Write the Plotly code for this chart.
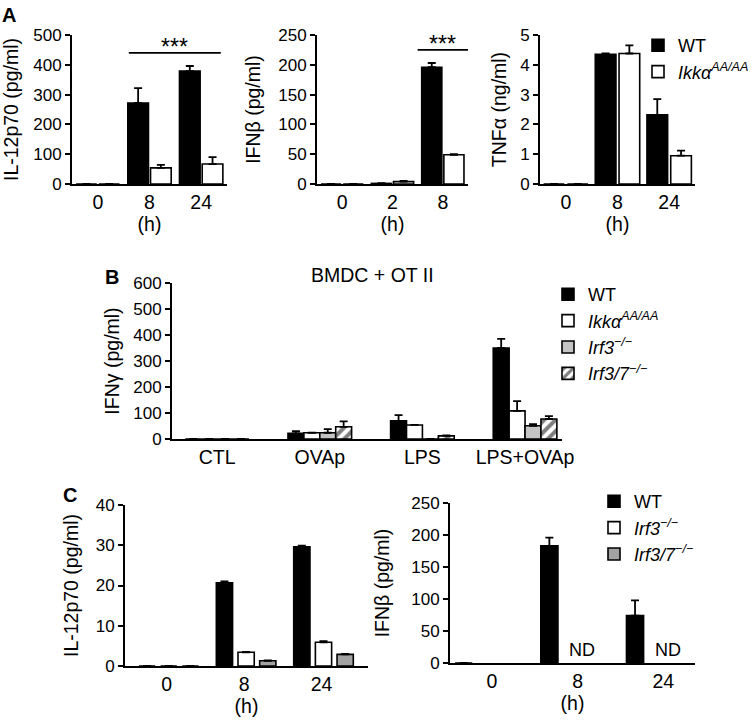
import plotly.graph_objects as go

FONT = "Liberation Sans, Arial, Helvetica, sans-serif"
W, H = 754, 720

# ---------------- data ----------------
# Panel A
a_il12_time = ["0", "8", "24"]
a_il12_wt = [0, 272, 379]
a_il12_wt_err = [None, 50, 17]
a_il12_ikk = [0, 54, 67]
a_il12_ikk_err = [None, 10, 23]

a_ifnb_time = ["0", "2", "8"]
a_ifnb_wt = [0, 1, 196]
a_ifnb_wt_err = [None, 0.5, 7]
a_ifnb_ikk = [0, 4, 49]
a_ifnb_ikk_err = [None, 1, 1]

a_tnf_time = ["0", "8", "24"]
a_tnf_wt = [0, 4.35, 2.32]
a_tnf_wt_err = [None, 0.03, 0.53]
a_tnf_ikk = [0, 4.38, 0.95]
a_tnf_ikk_err = [None, 0.27, 0.17]

# Panel B
b_cond = ["CTL", "OVAp", "LPS", "LPS+OVAp"]
b_wt = [0, 22, 70, 350]
b_wt_err = [None, 8, 22, 35]
b_ikk = [0, 24, 54, 108]
b_ikk_err = [None, None, None, 38]
b_irf3 = [0, 24, 0, 51]
b_irf3_err = [None, 14, None, 6]
b_irf37 = [0, 47, 12, 77]
b_irf37_err = [None, 21, 2, 11]

# Panel C
c_time = ["0", "8", "24"]
c_il12_wt = [0, 20.7, 29.6]
c_il12_wt_err = [None, 0.3, 0.3]
c_il12_irf3 = [0, 3.4, 5.9]
c_il12_irf3_err = [None, 0.1, 0.3]
c_il12_irf37 = [0, 1.3, 2.9]
c_il12_irf37_err = [None, 0.1, 0.1]
c_ifnb_wt = [0, 183, 74]
c_ifnb_wt_err = [None, 13, 24]
c_ifnb_nd = ["", "ND", "ND"]

# legend names
n_wt = "WT"
n_ikk = "<i>Ikkα<sup>AA/AA</sup></i>"
n_irf3 = "<i>Irf3<sup>−/−</sup></i>"
n_irf37 = "<i>Irf3/7<sup>−/−</sup></i>"

GRAY_B = "#c4c4c4"
GRAY_C = "#a2a2a2"


def px_x(p):
    return p / W


def px_y(p):
    return 1 - p / H


fig = go.Figure()


def bar(x, y, err, name, color, xa, ya, width, offset, legend, showlegend,
        pattern=None):
    m = dict(color=color, line=dict(color="black", width=1.6))
    if pattern:
        m["pattern"] = pattern
    fig.add_trace(go.Bar(
        x=x, y=y, name=name, marker=m, width=width, offset=offset,
        xaxis=xa, yaxis=ya, legend=legend, showlegend=showlegend,
        error_y=dict(type="data", array=err,
                     arrayminus=[None if e is None else 0 for e in err],
                     symmetric=False, color="black", thickness=1.8, width=4),
    ))


# Panel A
wA = 0.40
bar(a_il12_time, a_il12_wt, a_il12_wt_err, n_wt, "black", "x", "y", wA, -0.42, "legend", True)
bar(a_il12_time, a_il12_ikk, a_il12_ikk_err, n_ikk, "white", "x", "y", wA, 0.02, "legend", True)
bar(a_ifnb_time, a_ifnb_wt, a_ifnb_wt_err, n_wt, "black", "x2", "y2", wA, -0.42, "legend", False)
bar(a_ifnb_time, a_ifnb_ikk, a_ifnb_ikk_err, n_ikk, "white", "x2", "y2", wA, 0.02, "legend", False)
bar(a_tnf_time, a_tnf_wt, a_tnf_wt_err, n_wt, "black", "x3", "y3", wA, -0.43, "legend", False)
bar(a_tnf_time, a_tnf_ikk, a_tnf_ikk_err, n_ikk, "white", "x3", "y3", wA, 0.03, "legend", False)

# Panel B
wB = 0.155
hatch = dict(shape="/", fgcolor="black", bgcolor="white", size=8, solidity=0.5)
bar(b_cond, b_wt, b_wt_err, n_wt, "black", "x4", "y4", wB, -2 * wB, "legend2", True)
bar(b_cond, b_ikk, b_ikk_err, n_ikk, "white", "x4", "y4", wB, -wB, "legend2", True)
bar(b_cond, b_irf3, b_irf3_err, n_irf3, GRAY_B, "x4", "y4", wB, 0, "legend2", True)
bar(b_cond, b_irf37, b_irf37_err, n_irf37, "white", "x4", "y4", wB, wB, "legend2", True, hatch)

# Panel C
wC = 0.21
bar(c_time, c_il12_wt, c_il12_wt_err, n_wt, "black", "x5", "y5", wC, -0.36, "legend3", True)
bar(c_time, c_il12_irf3, c_il12_irf3_err, n_irf3, "white", "x5", "y5", wC, -0.08, "legend3", True)
bar(c_time, c_il12_irf37, c_il12_irf37_err, n_irf37, GRAY_C, "x5", "y5", wC, 0.20, "legend3", True)
bar(c_time, c_ifnb_wt, c_ifnb_wt_err, n_wt, "black", "x6", "y6", 0.2, -0.43, "legend3", False)

# ---------------- axes ----------------
tick_y = dict(family=FONT, size=17, color="black")
tick_x = dict(family=FONT, size=19.5, color="black")
title_f = dict(family=FONT, size=19.5, color="black")


def xaxis(x0, x1, rng, title, anchor):
    return dict(domain=[px_x(x0), px_x(x1)], anchor=anchor, type="category",
                range=rng, showline=True, linecolor="black", linewidth=2,
                ticks="", showgrid=False, zeroline=False, tickfont=tick_x,
                fixedrange=True,
                title=dict(text=title, font=title_f, standoff=4))


def yaxis(y_top, y_bot, rng, dtick, title, anchor, standoff=12):
    return dict(domain=[px_y(y_bot), px_y(y_top)], anchor=anchor,
                range=rng, dtick=dtick, showline=True, linecolor="black",
                linewidth=2, ticks="outside", ticklen=5, tickwidth=2,
                tickcolor="black", showgrid=False, zeroline=False,
                tickfont=tick_y, fixedrange=True,
                title=dict(text=title, font=title_f, standoff=standoff))


fig.update_layout(
    xaxis=xaxis(72, 227, [-0.5, 2.5], "(h)", "y"),
    yaxis=yaxis(35, 184, [0, 500], 100, "IL-12p70 (pg/ml)", "x"),
    xaxis2=xaxis(317, 468, [-0.5, 2.5], "(h)", "y2"),
    yaxis2=yaxis(35, 184, [0, 250], 50, "IFNβ (pg/ml)", "x2"),
    xaxis3=xaxis(540, 695, [-0.5, 2.5], "(h)", "y3"),
    yaxis3=yaxis(35, 184, [0, 5], 1, "TNFα (ng/ml)", "x3", standoff=8),
    xaxis4=xaxis(172, 562, [-0.44, 3.36], "", "y4"),
    yaxis4=yaxis(283, 439, [0, 600], 100, "IFNγ (pg/ml)", "x4", standoff=8),
    xaxis5=xaxis(125, 368, [-0.54, 2.6], "(h)", "y5"),
    yaxis5=yaxis(505, 666, [0, 40], 10, "IL-12p70 (pg/ml)", "x5"),
    xaxis6=xaxis(450, 695, [-0.49, 2.37], "(h)", "y6"),
    yaxis6=yaxis(503, 663, [0, 250], 50, "IFNβ (pg/ml)", "x6", standoff=16),
)

leg_font = dict(family=FONT, size=18, color="black")
fig.update_layout(
    width=W, height=H,
    margin=dict(l=0, r=0, t=0, b=0, autoexpand=False),
    paper_bgcolor="white", plot_bgcolor="white",
    barmode="overlay",
    font=dict(family=FONT, color="black"),
    legend=dict(x=px_x(638), y=px_y(27), xanchor="left", yanchor="top",
                font=leg_font, bgcolor="rgba(0,0,0,0)", tracegroupgap=0),
    legend2=dict(x=px_x(548), y=px_y(276), xanchor="left", yanchor="top",
                 font=leg_font, bgcolor="rgba(0,0,0,0)", tracegroupgap=0),
    legend3=dict(x=px_x(594), y=px_y(483), xanchor="left", yanchor="top",
                 font=leg_font, bgcolor="rgba(0,0,0,0)", tracegroupgap=0),
)

# ---------------- annotations ----------------
ann = []
# panel letters
for letter, xx, yy in [("A", 9, 15), ("B", 112, 277), ("C", 70, 495)]:
    ann.append(dict(text=f"<b>{letter}</b>", x=px_x(xx), y=px_y(yy),
                    xref="paper", yref="paper", showarrow=False,
                    font=dict(family=FONT, size=20, color="black"),
                    xanchor="center", yanchor="middle"))
# panel B title
ann.append(dict(text="BMDC + OT II", x=px_x(372), y=px_y(275), xref="paper",
                yref="paper", showarrow=False, font=title_f,
                xanchor="center", yanchor="middle"))
# significance stars
sig = [("x", "y", 0.6, 2.38, 440), ("x2", "y2", 1.5, 2.5, 225)]
shapes = []
for xa, ya, s0, s1, level in sig:
    shapes.append(dict(type="line", xref=xa, yref=ya, x0=s0, x1=s1,
                       y0=level, y1=level, line=dict(color="black", width=1.8)))
    ann.append(dict(text="***", x=(s0 + s1) / 2, y=level, xref=xa, yref=ya,
                    showarrow=False, yanchor="bottom", yshift=-9,
                    font=dict(family=FONT, size=23, color="black")))
# ND labels
for i, t in enumerate(c_ifnb_nd):
    if t:
        ann.append(dict(text=t, x=i + 0.05, y=0, xref="x6", yref="y6",
                        showarrow=False, yanchor="bottom", yshift=1,
                        font=dict(family=FONT, size=18, color="black")))

fig.update_layout(annotations=ann, shapes=shapes)

fig.write_html("out.html",
               config={"displayModeBar": False},
               post_script="document.body.style.margin='0px';")
